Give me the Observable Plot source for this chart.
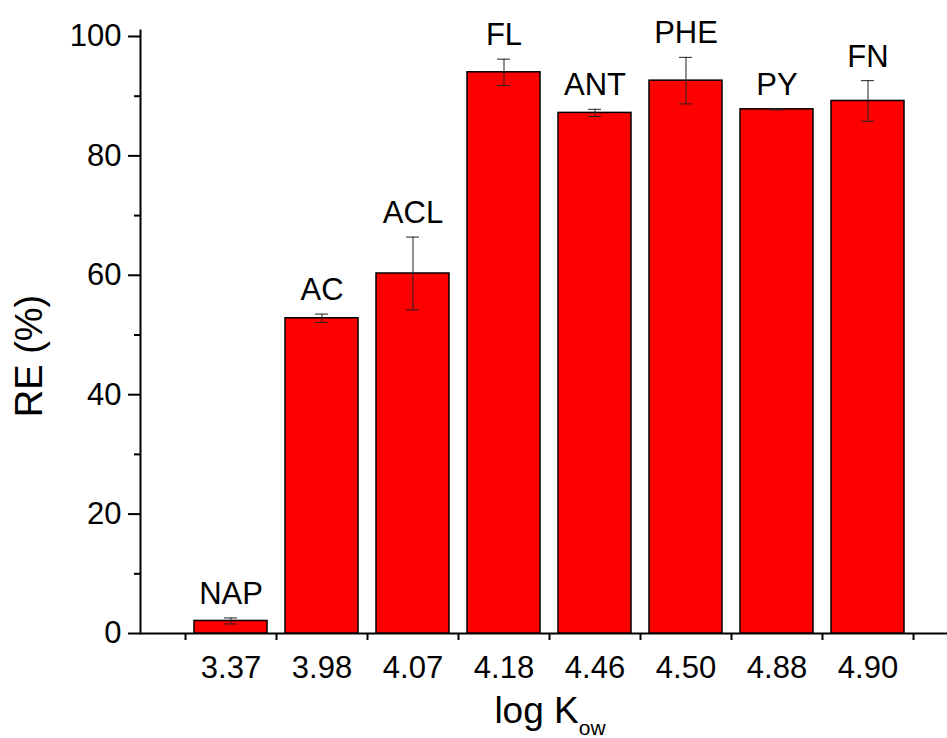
<!DOCTYPE html>
<html><head><meta charset="utf-8">
<script src="https://cdn.jsdelivr.net/npm/d3@7"></script>
<script src="https://cdn.jsdelivr.net/npm/@observablehq/plot@0.6"></script>
<style>html,body{margin:0;padding:0;background:#fff} svg{display:block}</style>
</head><body><div id="chart"></div>
<script>
const compounds = ["NAP", "AC", "ACL", "FL", "ANT", "PHE", "PY", "FN"];
const logKow = ["3.37", "3.98", "4.07", "4.18", "4.46", "4.50", "4.88", "4.90"];
const removal = [2.1, 52.8, 60.3, 94.0, 87.2, 92.6, 87.8, 89.2];
const errors = [0.5, 0.7, 6.1, 2.2, 0.6, 3.9, 0.1, 3.4];
const yTicks = [0, 20, 40, 60, 80, 100];
const yMinorTicks = [10, 30, 50, 70, 90];

const data = compounds.map((c, i) => ({compound: c, kow: logKow[i], re: removal[i], err: errors[i]}));
const font = "'Liberation Sans', Arial, Helvetica, sans-serif";
const W = 947, H = 738;
const xRange = [185, 913];
const half = (xRange[1] - xRange[0]) / logKow.length / 2;

const plot = Plot.plot({
  width: W, height: H,
  marginLeft: 140, marginRight: 0, marginTop: 30, marginBottom: 105,
  style: {fontFamily: font, background: "#fff", color: "#000"},
  x: {type: "band", domain: logKow, range: xRange, paddingInner: 0.2, paddingOuter: 0.1},
  y: {domain: [0, 101]},
  marks: [
    Plot.frame({anchor: "left", strokeWidth: 2}),
    Plot.ruleY([0], {strokeWidth: 2}),
    Plot.barY(data, {x: "kow", y: "re", fill: "#ff0000", stroke: "#000", strokeWidth: 1.5}),
    Plot.ruleX(data, {x: "kow", y1: d => d.re - d.err, y2: d => d.re + d.err, stroke: "#222", strokeWidth: 1}),
    Plot.tickY(data, {x: "kow", y: d => d.re + d.err, insetLeft: 30, insetRight: 30, stroke: "#222", strokeWidth: 1}),
    Plot.tickY(data, {x: "kow", y: d => d.re - d.err, insetLeft: 30, insetRight: 30, stroke: "#222", strokeWidth: 1}),
    Plot.text(data, {x: "kow", y: d => d.re + d.err, text: "compound", dy: -14, lineAnchor: "bottom", fontSize: 31, fill: "#000"}),
    Plot.axisY({ticks: yTicks, tickSize: 12, tickPadding: 7, fontSize: 31, label: null, strokeWidth: 2}),
    Plot.axisY({ticks: yMinorTicks, tickSize: 6, fill: "none", label: null, strokeWidth: 2}),
    Plot.axisX({ticks: logKow, tickSize: 7, dx: -half, fill: "none", label: null, strokeWidth: 2}),
    Plot.axisX({ticks: logKow.slice(-1), tickSize: 7, dx: half, fill: "none", label: null, strokeWidth: 2}),
    Plot.axisX({ticks: logKow, tickSize: 0, tickPadding: 22, fontSize: 31, label: null})
  ]
});

const svg = d3.select(plot);
svg.append("text")
  .attr("transform", "translate(42,356) rotate(-90)")
  .attr("text-anchor", "middle")
  .attr("font-family", font)
  .attr("font-size", 38)
  .attr("fill", "#000")
  .text("RE (%)");
const xt = svg.append("text")
  .attr("x", 550).attr("y", 723)
  .attr("text-anchor", "middle")
  .attr("font-family", font)
  .attr("fill", "#000");
xt.append("tspan").attr("font-size", 37).text("log K");
xt.append("tspan").attr("font-size", 21).attr("dy", 12).text("ow");

document.getElementById("chart").appendChild(plot);
</script>
</body></html>
